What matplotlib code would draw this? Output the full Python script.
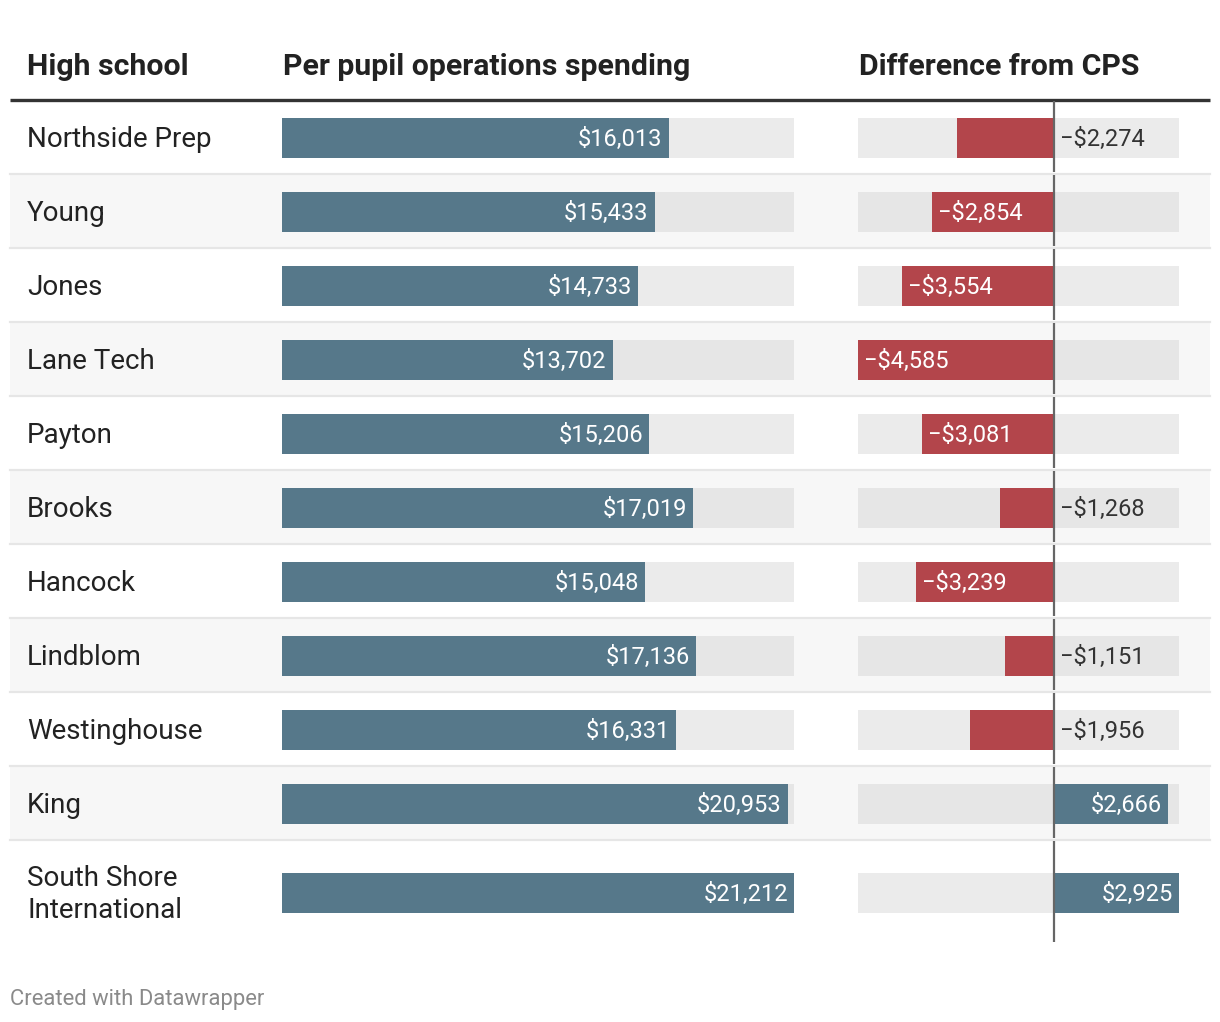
import matplotlib
matplotlib.use("Agg")
import matplotlib.pyplot as plt

# 데이터
schools = ["Northside Prep", "Young", "Jones", "Lane Tech", "Payton", "Brooks",
           "Hancock", "Lindblom", "Westinghouse", "King", "South Shore\nInternational"]
spending = [16013, 15433, 14733, 13702, 15206, 17019, 15048, 17136, 16331, 20953, 21212]
diff_cps = [-2274, -2854, -3554, -4585, -3081, -1268, -3239, -1151, -1956, 2666, 2925]

headers = ["High school", "Per pupil operations spending", "Difference from CPS"]
footer = "Created with Datawrapper"

# 스타일
plt.rcParams["font.family"] = ["Roboto", "DejaVu Sans"]
W, H = 1220, 1022
BLUE = "#56788a"
RED = "#b3454b"
TEXT = "#222222"
LABEL_FS = 20
VALUE_FS = 17

# 레이아웃 (픽셀)
header_y = 100
row_h = [74] * (len(schools) - 1) + [104]
row_top = [header_y + sum(row_h[:i]) for i in range(len(schools))]
row_mid = [t + h / 2 + 1 for t, h in zip(row_top, row_h)]
bar_h = 40
spend_x0, spend_x1 = 282, 794
diff_x0, diff_x1 = 858, 1179


def fmt(v):
    s = f"${abs(v):,}"
    return "\u2212" + s if v < 0 else s


fig = plt.figure(figsize=(W / 100, H / 100), dpi=100)
ax = fig.add_axes([0, 0, 1, 1])
ax.set_xlim(0, W)
ax.set_ylim(H, 0)
ax.axis("off")

# 행 배경, 구분선
for i, (t, h) in enumerate(zip(row_top, row_h)):
    if i % 2 == 1:
        ax.fill_between([10, 1210], t, t + h, color="#f7f7f7", lw=0, zorder=0)
    if i < len(schools) - 1:
        ax.plot([10, 1210], [t + h, t + h], color="#e6e6e6", lw=1.6, zorder=1)
ax.plot([10, 1210], [header_y, header_y], color="#333333", lw=2.4,
        solid_capstyle="butt", zorder=2)

# 헤더
for x, s in zip([27, 283, 859], headers):
    ax.text(x, 75, s, fontsize=21.8, fontweight="bold", color=TEXT, va="baseline")

# 학교 이름 (줄마다 기준선 맞춤)
for i, name in enumerate(schools):
    lines = name.split("\n")
    for k, line in enumerate(lines):
        y = row_mid[i] + 9 + (k - (len(lines) - 1) / 2) * 32
        ax.text(27, y, line, fontsize=LABEL_FS, color=TEXT, va="baseline")

ax.text(10, 1005, footer, fontsize=15.8, color="#8a8a8a", va="baseline")

# 지출 막대
ax_s = fig.add_axes([spend_x0 / W, 0, (spend_x1 - spend_x0) / W, 1])
ax_s.set_xlim(0, max(spending))
ax_s.set_ylim(H, 0)
ax_s.axis("off")
ax_s.patch.set_alpha(0)
bg = ["#e6e6e6" if i % 2 == 1 else "#ebebeb" for i in range(len(schools))]
ax_s.barh(row_mid, [max(spending)] * len(schools), height=bar_h, color=bg, lw=0)
ax_s.barh(row_mid, spending, height=bar_h, color=BLUE, lw=0)
for y, v in zip(row_mid, spending):
    ax_s.annotate(fmt(v), (v, y + 8), xytext=(-6, 0), textcoords="offset pixels",
                  ha="right", va="baseline", fontsize=VALUE_FS, color="white")

# 차이 막대
ax_d = fig.add_axes([diff_x0 / W, 0, (diff_x1 - diff_x0) / W, 1])
ax_d.set_xlim(min(diff_cps), max(diff_cps))
ax_d.set_ylim(H, 0)
ax_d.axis("off")
ax_d.patch.set_alpha(0)
ax_d.barh(row_mid, [max(diff_cps) - min(diff_cps)] * len(schools),
          left=min(diff_cps), height=bar_h, color=bg, lw=0)
colors = [RED if v < 0 else BLUE for v in diff_cps]
ax_d.barh(row_mid, diff_cps, height=bar_h, color=colors, lw=0)
px_per = (diff_x1 - diff_x0) / (max(diff_cps) - min(diff_cps))
for y, v in zip(row_mid, diff_cps):
    if v > 0:
        ax_d.annotate(fmt(v), (v, y + 8), xytext=(-6, 0), textcoords="offset pixels",
                      ha="right", va="baseline", fontsize=VALUE_FS, color="white")
    elif abs(v) * px_per > 105:
        ax_d.annotate(fmt(v), (v, y + 8), xytext=(6, 0), textcoords="offset pixels",
                      ha="left", va="baseline", fontsize=VALUE_FS, color="white")
    else:
        ax_d.annotate(fmt(v), (0, y + 8), xytext=(6, 0), textcoords="offset pixels",
                      ha="left", va="baseline", fontsize=VALUE_FS, color="#333333")

# 0 기준선 (행마다 끊김)
for t, h in zip(row_top, row_h):
    ax_d.plot([0, 0], [t + 1.5, t + h - 1.5], color="#666666", lw=1.6,
              solid_capstyle="butt")

fig.savefig("out.png", dpi=100, facecolor="white")
